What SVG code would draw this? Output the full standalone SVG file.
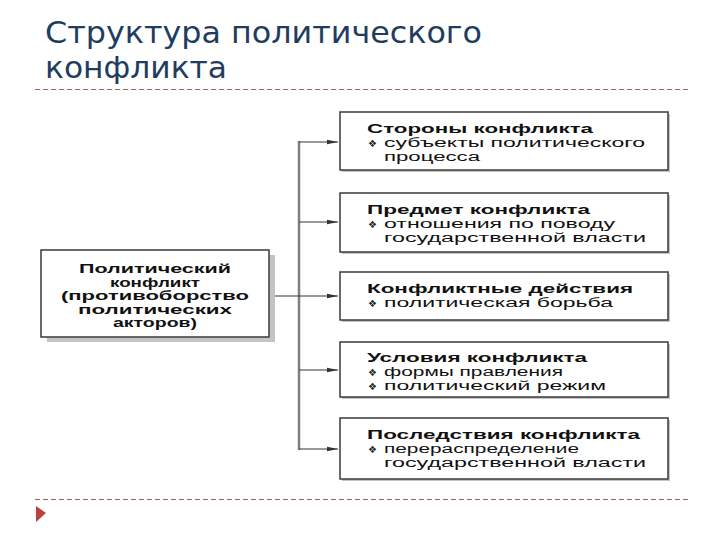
<svg xmlns="http://www.w3.org/2000/svg" width="720" height="540" viewBox="0 0 720 540">
<defs>
<style>
.title{font-family:"DejaVu Sans","Noto Sans",sans-serif;font-size:30px;fill:#1f3d5f}
.t{font-family:"Liberation Sans",Arial,sans-serif;font-size:12px;fill:#111}
.h{font-weight:bold}
.c{text-anchor:middle}
.b{font-family:"DejaVu Sans",sans-serif;font-size:10px;fill:#222}
.box{fill:#fff;stroke:#3a3a3a;stroke-width:1.5}
.sh{fill:#c4c4c4}
.conn{stroke:#333;stroke-width:1;fill:none}
.trunk{stroke:#808080;stroke-width:2.5;fill:none}
.dash{stroke:#a65c5a;stroke-width:1;stroke-dasharray:5,3;fill:none}
</style>
<marker id="arr" markerUnits="userSpaceOnUse" markerWidth="11" markerHeight="6" refX="11" refY="3" orient="auto">
<path d="M0,0.8 L11,3 L0,5.2 z" fill="#333"/>
</marker>
</defs>
<rect width="720" height="540" fill="#fff"/>

<g id="title">
<text class="title" x="45" y="43" textLength="437" lengthAdjust="spacingAndGlyphs">Структура политического</text>
<text class="title" x="45" y="78" textLength="182" lengthAdjust="spacingAndGlyphs">конфликта</text>
</g>

<g id="decor">
<line class="dash" x1="35" y1="89.5" x2="688" y2="89.5"/>
<line class="dash" x1="35" y1="499.5" x2="688" y2="499.5"/>
<polygon points="36,506 46,513 36,522" fill="#b9413f"/>
</g>

<g id="connectors">
<line class="trunk" x1="299" y1="141" x2="299" y2="450"/>
<line class="conn" x1="269" y1="296" x2="299" y2="296"/>
<line class="conn" x1="299" y1="142" x2="338" y2="142" marker-end="url(#arr)"/>
<line class="conn" x1="299" y1="222" x2="338" y2="222" marker-end="url(#arr)"/>
<line class="conn" x1="299" y1="296" x2="338" y2="296" marker-end="url(#arr)"/>
<line class="conn" x1="299" y1="370" x2="338" y2="370" marker-end="url(#arr)"/>
<line class="conn" x1="299" y1="449" x2="338" y2="449" marker-end="url(#arr)"/>
</g>

<g id="main">
<rect class="sh" x="47" y="255" width="228" height="87"/>
<rect class="box" x="41" y="250" width="228" height="87"/>
<text class="t h c" x="155" y="273" textLength="152" lengthAdjust="spacingAndGlyphs">Политический</text>
<text class="t h c" x="155" y="286.5" textLength="90" lengthAdjust="spacingAndGlyphs">конфликт</text>
<text class="t h c" x="155" y="300" textLength="188" lengthAdjust="spacingAndGlyphs">(противоборство</text>
<text class="t h c" x="155" y="313.5" textLength="154" lengthAdjust="spacingAndGlyphs">политических</text>
<text class="t h c" x="155" y="327" textLength="84" lengthAdjust="spacingAndGlyphs">акторов)</text>
</g>

<g id="sides">
<rect class="sh" x="342" y="114" width="328" height="58"/>
<rect class="box" x="340" y="112" width="328" height="58"/>
<text class="t h" x="367" y="133" textLength="226" lengthAdjust="spacingAndGlyphs">Стороны конфликта</text>
<text class="b" x="368" y="147">❖</text>
<text class="t" x="384" y="147" textLength="261" lengthAdjust="spacingAndGlyphs">субъекты политического</text>
<text class="t" x="384" y="160.5" textLength="96" lengthAdjust="spacingAndGlyphs">процесса</text>
</g>

<g id="subject">
<rect class="sh" x="342" y="195" width="328" height="59"/>
<rect class="box" x="340" y="193" width="328" height="59"/>
<text class="t h" x="367" y="214" textLength="223" lengthAdjust="spacingAndGlyphs">Предмет конфликта</text>
<text class="b" x="368" y="228">❖</text>
<text class="t" x="384" y="228" textLength="231" lengthAdjust="spacingAndGlyphs">отношения по поводу</text>
<text class="t" x="384" y="241.5" textLength="262" lengthAdjust="spacingAndGlyphs">государственной власти</text>
</g>

<g id="actions">
<rect class="sh" x="342" y="274" width="328" height="48"/>
<rect class="box" x="340" y="272" width="328" height="48"/>
<text class="t h" x="367" y="293" textLength="266" lengthAdjust="spacingAndGlyphs">Конфликтные действия</text>
<text class="b" x="368" y="307">❖</text>
<text class="t" x="384" y="307" textLength="229" lengthAdjust="spacingAndGlyphs">политическая борьба</text>
</g>

<g id="conditions">
<rect class="sh" x="342" y="344" width="328" height="55"/>
<rect class="box" x="340" y="342" width="328" height="55"/>
<text class="t h" x="367" y="362" textLength="220" lengthAdjust="spacingAndGlyphs">Условия конфликта</text>
<text class="b" x="368" y="376">❖</text>
<text class="t" x="384" y="376" textLength="179" lengthAdjust="spacingAndGlyphs">формы правления</text>
<text class="b" x="368" y="389.5">❖</text>
<text class="t" x="384" y="389.5" textLength="222" lengthAdjust="spacingAndGlyphs">политический режим</text>
</g>

<g id="consequences">
<rect class="sh" x="342" y="420" width="328" height="61"/>
<rect class="box" x="340" y="418" width="328" height="61"/>
<text class="t h" x="367" y="439" textLength="273" lengthAdjust="spacingAndGlyphs">Последствия конфликта</text>
<text class="b" x="368" y="453">❖</text>
<text class="t" x="384" y="453" textLength="195" lengthAdjust="spacingAndGlyphs">перераспределение</text>
<text class="t" x="384" y="466.5" textLength="262" lengthAdjust="spacingAndGlyphs">государственной власти</text>
</g>
</svg>
